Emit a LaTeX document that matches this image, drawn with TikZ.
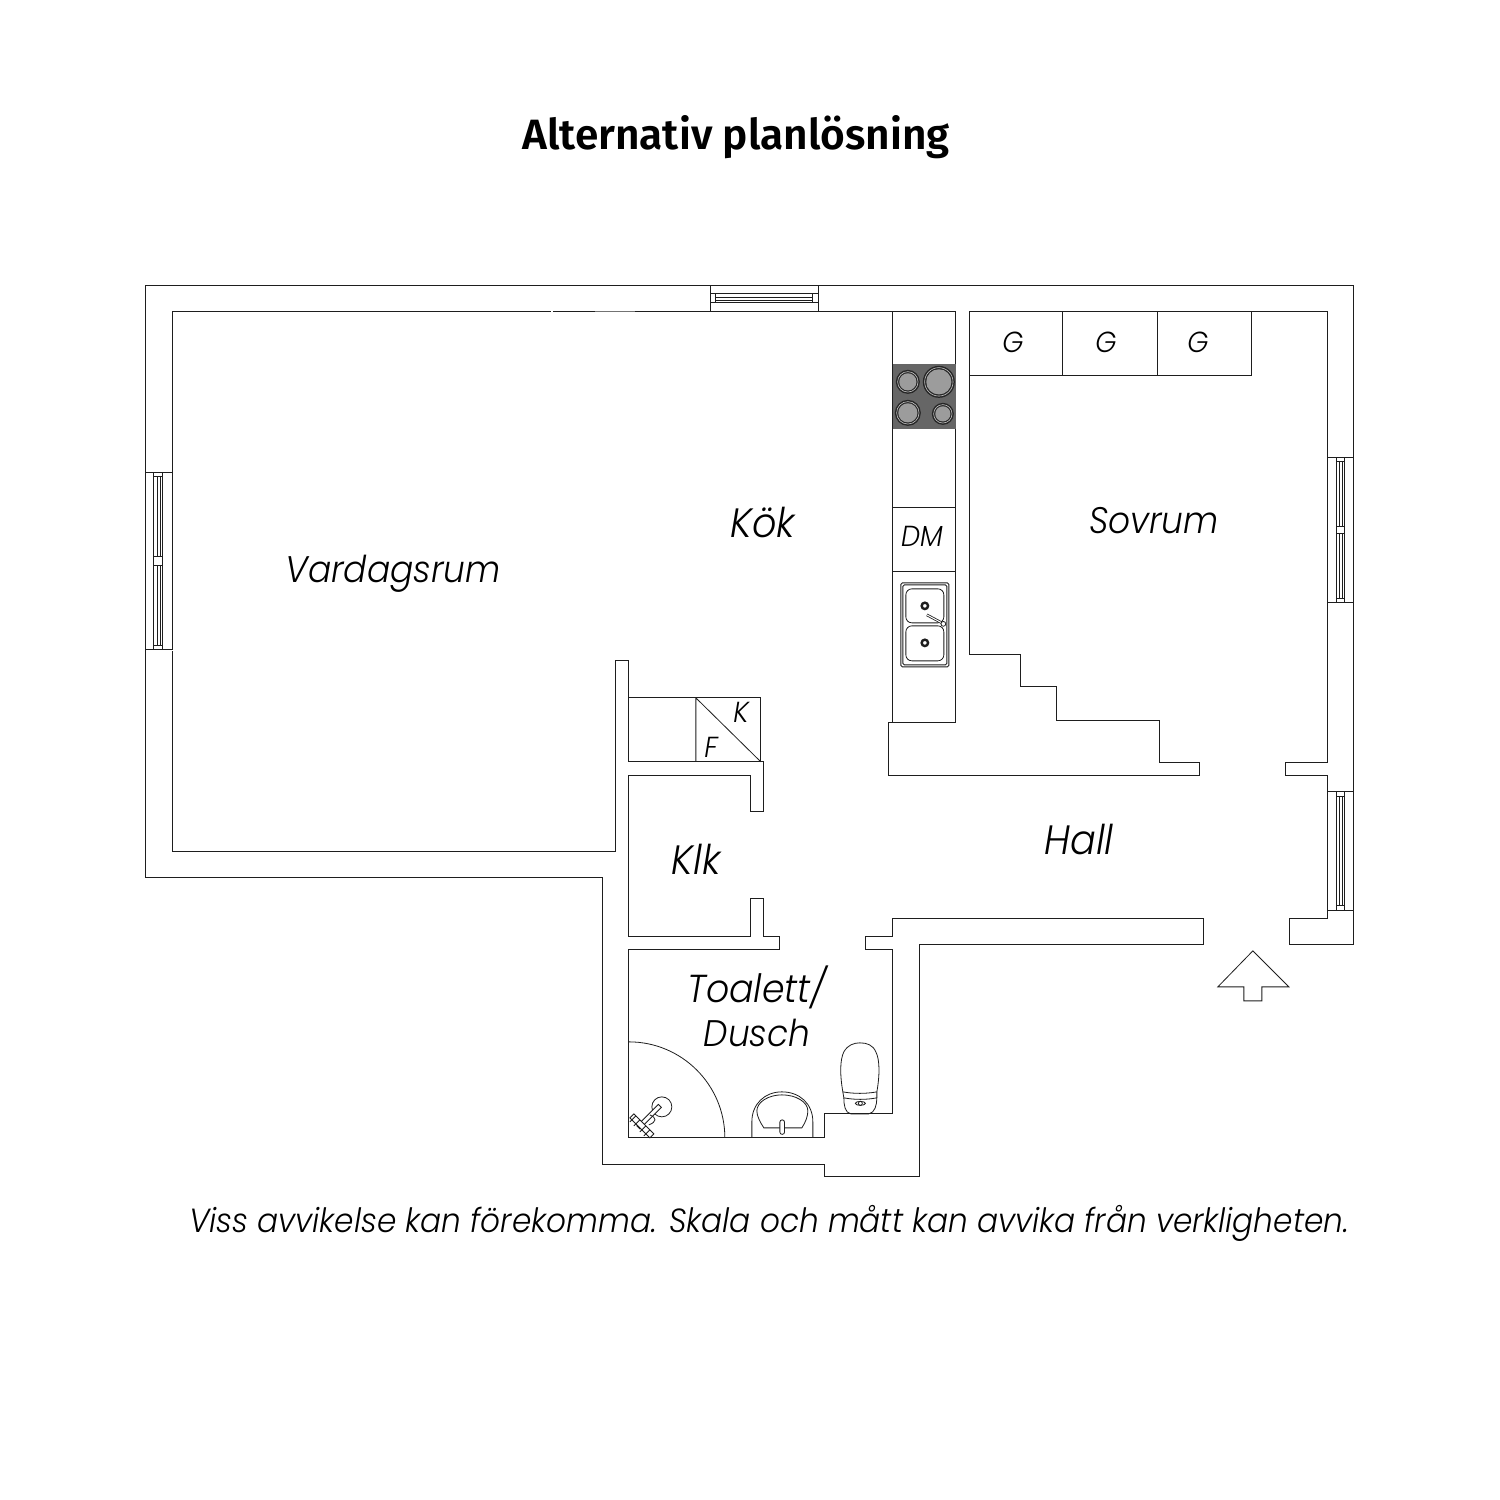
\documentclass[tikz,border=0pt]{standalone}
\usepackage{fontspec}
\newfontfamily\titlefont{Fira Sans SemiBold}
\newfontfamily\labfont[FakeStretch=0.93]{Poppins Light Italic}
\definecolor{ink}{HTML}{1E1E1E}
\definecolor{stove}{HTML}{666666}
\definecolor{plate}{HTML}{9C9C9C}
\tikzset{
  wall/.style={draw=ink,line width=1.05pt,line join=miter},
  thin part/.style={draw=ink,line width=0.8pt},
  room/.style={inner sep=0pt,text=black,font=\labfont\fontsize{37}{46}\selectfont},
  big room/.style={inner sep=0pt,text=black,font=\labfont\fontsize{41}{46}\selectfont},
  tag/.style={inner sep=0pt,text=black,font=\labfont\fontsize{29}{32}\selectfont},
}
\begin{document}
\begin{tikzpicture}[x=1pt,y=-1pt]
\useasboundingbox[fill=white] (0,0) rectangle (1500,1500);
\begin{scope}[shift={(-0.15,-0.15)}]
% outer and inner wall outlines
\draw[wall] (711,286) -- (146,286) -- (146,878) -- (603,878) -- (603,1165) -- (825,1165) -- (825,1177) -- (920,1177) -- (920,945) -- (1204,945) -- (1204,919) -- (893,919) -- (893,937) -- (866,937) -- (866,950) -- (893,950) -- (893,1114) -- (825,1114) -- (825,1138) -- (629,1138) -- (629,950) -- (780,950) -- (780,937) -- (764,937) -- (764,899) -- (751,899) -- (751,937) -- (629,937) -- (629,776) -- (751,776) -- (751,812) -- (764,812) -- (764,762) -- (629,762) -- (629,661) -- (616,661) -- (616,852) -- (173,852) -- (173,651);
\draw[wall] (173,472) -- (173,312) -- (551,312);
\draw[wall] (553,312) -- (595,312);
\draw[draw=black!55,line width=0.9pt] (595,311.5) -- (635,311.5);
\draw[wall] (635,312) -- (711,312);
\draw[wall] (819,312) -- (956,312) -- (956,723) -- (889,723) -- (889,776) -- (1200,776) -- (1200,763) -- (1160,763) -- (1160,721) -- (1057,721) -- (1057,687) -- (1021,687) -- (1021,655) -- (970,655) -- (970,312) -- (1328,312) -- (1328,458);
\draw[wall] (819,286) -- (1354,286) -- (1354,945) -- (1290,945) -- (1290,919) -- (1328,919) -- (1328,911);
\draw[wall] (1328,603) -- (1328,763) -- (1286,763) -- (1286,776) -- (1328,776) -- (1328,792);
% windows
\draw[wall] (711,286) rectangle (819,312);
\draw[thin part] (711,294) -- (819,294) (711,303) -- (819,303) (716,294) -- (716,303) (813,294) -- (813,303);
\draw[thin part] (716,298) -- (813,298) (716,300.5) -- (813,300.5);
\draw[wall] (146,473) rectangle (173,650);
\draw[thin part] (154,473) -- (154,650) (163,473) -- (163,650) (154,477) -- (163,477) (154,646) -- (163,646) (154,557) -- (163,557) (154,566) -- (163,566) (158,477) -- (158,557) (160.5,477) -- (160.5,557) (158,566) -- (158,646) (160.5,566) -- (160.5,646);
\draw[wall] (1328,458) rectangle (1354,603);
\draw[thin part] (1337,458) -- (1337,603) (1345,458) -- (1345,603) (1337,462) -- (1345,462) (1337,599) -- (1345,599) (1337,527) -- (1345,527) (1337,534) -- (1345,534) (1340,462) -- (1340,527) (1342.5,462) -- (1342.5,527) (1340,534) -- (1340,599) (1342.5,534) -- (1342.5,599);
\draw[wall] (1328,792) rectangle (1354,911);
\draw[thin part] (1337,792) -- (1337,911) (1345,792) -- (1345,911) (1337,797) -- (1345,797) (1337,906) -- (1345,906) (1340,797) -- (1340,906) (1342.5,797) -- (1342.5,906);
% wardrobes
\draw[thin part] (970,376) -- (1252,376) -- (1252,312) (1063,312) -- (1063,376) (1158,312) -- (1158,376);
% kitchen counter
\draw[wall] (893,312) -- (893,723);
\draw[thin part] (893,508) -- (956,508) (893,572) -- (956,572);
\fill[stove] (893,364) rectangle (956,429);
\foreach \cx/\cy/\r in {908/382/12,939/382/16,908/413/13,943/414/11}{
  \fill[black!85] (\cx,\cy) circle (\r);
  \draw[draw=plate!60,line width=0.6pt] (\cx,\cy) circle (\r-1.8);
  \fill[plate] (\cx,\cy) circle (\r-3.4);
}
% sink
\draw[thin part,rounded corners=1.5pt] (901,583) rectangle (949,667);
\draw[thin part,rounded corners=1.5pt] (903,585) rectangle (947,665);
\draw[thin part,rounded corners=6pt] (906,589) rectangle (944,623);
\draw[thin part,rounded corners=6pt] (906,626) rectangle (944,661);
\foreach \cy in {606,643}{
  \draw[line width=2.4pt,draw=ink,fill=white] (925,\cy) circle (3.2);
}
\draw[draw=ink,line width=2.6pt] (927,615) -- (942,623);
\draw[draw=white,line width=1pt] (927,615) -- (942,623);
\draw[thin part,fill=white] (943.5,624) circle (2.4);
% storage
\draw[wall] (629,698) -- (761,698) -- (761,762);
\draw[thin part] (696,698) -- (696,762) (696,698) -- (761,762);
% shower
\draw[thin part] (629,1042) .. controls (682,1042) and (725,1085) .. (725,1138);
\draw[thin part] (662,1107) circle (10);
\draw[thin part,fill=white] (658.5,1104.5) -- (661.5,1107.5) -- (640,1129) -- (637,1126) -- cycle;
\draw[thin part] (650,1115) .. controls (657,1118) and (657,1122) .. (649,1125);
\draw[thin part,fill=white] (630,1118) -- (634,1114) -- (654,1134) -- (650,1138) -- cycle;
\draw[thin part] (630,1122) -- (636,1116) (634,1126) -- (640,1120) (640,1132) -- (646,1126) (644,1136) -- (650,1130);
% wash basin
\draw[thin part] (752,1138) -- (752,1122) .. controls (752,1104) and (765,1092) .. (782,1092) .. controls (800,1092) and (813,1104) .. (813,1122) -- (813,1138);
\draw[thin part] (764,1128) .. controls (760,1122) and (757,1116) .. (757,1111) .. controls (757,1102) and (769,1095) .. (782,1095) .. controls (796,1095) and (808,1102) .. (808,1111) .. controls (808,1116) and (806,1122) .. (802,1128) -- cycle;
\draw[thin part,fill=white,rounded corners=2.3pt] (780,1120) rectangle (784.7,1134.5);
% toilet
\draw[thin part] (843,1092) .. controls (840,1075) and (840,1060) .. (844,1052) .. controls (848,1045) and (854,1043) .. (860,1043) .. controls (867,1043) and (873,1045) .. (876,1052) .. controls (880,1060) and (880,1075) .. (877,1092) .. controls (866,1094) and (854,1094) .. (843,1092) -- cycle;
\draw[thin part] (843,1092) -- (844,1098) .. controls (855,1100) and (866,1100) .. (877,1098) -- (877,1092);
\draw[thin part] (844,1098) .. controls (844,1105) and (845,1113) .. (851,1114) -- (869,1114) .. controls (875,1113) and (877,1105) .. (877,1098);
\draw[thin part] (860.5,1103.5) ellipse (5 and 2);
\draw[thin part] (860.5,1103.5) circle (2);
% entrance arrow
\draw[thin part] (1253,951) -- (1289,987) -- (1262,987) -- (1262,1001) -- (1244,1001) -- (1244,987) -- (1218,987) -- cycle;
\end{scope}
% texts
\node[inner sep=0pt,font=\titlefont\fontsize{42.4}{46}\selectfont] (title) at (736,137) {Alternativ planlösning};
\node[room] (vardagsrum) at (393,574) {Vardagsrum};
\node[big room] (kok) at (763,522) {Kök};
\node[room] (sovrum) at (1154,521) {Sovrum};
\node[big room] (hall) at (1079,839) {Hall};
\node[big room] (klk) at (696,859) {Klk};
\node[room,font=\labfont\fontsize{39}{46}\selectfont] (toalett) at (757,987) {Toalett/};
\node[room] (dusch) at (757,1033) {Dusch};
\node[tag] (g1) at (1013,342) {G};
\node[tag] (g2) at (1106,342) {G};
\node[tag] (g3) at (1198,342) {G};
\node[tag] (dm) at (922,536) {DM};
\node[tag] (k) at (741,712) {K};
\node[tag] (f) at (711,747) {F};
\node[room,font=\labfont\fontsize{33.5}{42}\selectfont] (note) at (769,1223) {Viss avvikelse kan förekomma. Skala och mått kan avvika från verkligheten.};
\end{tikzpicture}
\end{document}
